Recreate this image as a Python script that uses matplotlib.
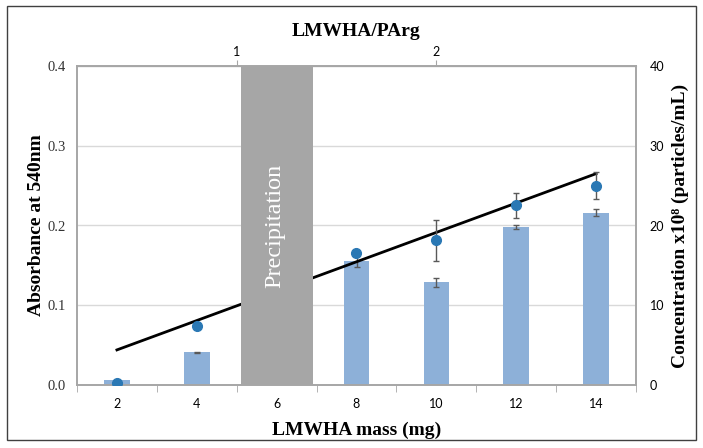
"""
Absorbance and particle concentration vs LMWHA mass
"""
import numpy as np
import matplotlib
matplotlib.use("Agg")
from matplotlib import pyplot as plt
from matplotlib.patches import Rectangle

# data
mass = [2, 4, 8, 10, 12, 14]
absorbance = [0.003, 0.074, 0.165, 0.1815, 0.2255, 0.250]
absorbance_err = [0.0, 0.0, 0.0, 0.026, 0.0155, 0.0168]
concentration = [0.67, 4.1, 15.6, 12.9, 19.8, 21.6]
concentration_err = [0.0, 0.1, 0.8, 0.55, 0.25, 0.45]
fit_mass = [2, 14]
fit_absorbance = [0.044, 0.265]
precip_mass = 6
xticks = [2, 4, 6, 8, 10, 12, 14]
ratio_ticks = [1, 2]

serif = "Liberation Serif"
sans = "Lato"

spine_c = '#A6A6A6'
grid_c = '#D9D9D9'
bar_c = '#8DB0D8'
dot_c = '#2A78B4'
err_c = '#595959'


def main():
    fig = plt.figure(figsize=(7.03, 4.48), dpi=100)
    fig.patches.append(Rectangle((7 / 703, 1 - 440 / 448), 689 / 703, 434 / 448,
                                 transform=fig.transFigure, fill=False,
                                 edgecolor='#404040', linewidth=1.0))
    ax = fig.add_axes([77 / 703, 1 - 385 / 448, 559 / 703, 319 / 448])
    ax2 = ax.twinx()
    ax.set_zorder(ax2.get_zorder() + 1)
    ax.patch.set_visible(False)

    # concentration bars (right axis)
    ax2.bar(mass, concentration, width=0.64, color=bar_c, zorder=2)
    ax2.errorbar(mass, concentration, yerr=concentration_err, fmt='none',
                 ecolor=err_c, elinewidth=1.0, capsize=2, capthick=1.0,
                 zorder=3)
    ax2.set_ylim(0, 40)
    ax2.set_yticks([0, 10, 20, 30, 40])
    ax2.yaxis.grid(True, color=grid_c, linewidth=1.0, zorder=0)
    ax2.set_axisbelow(True)

    # absorbance (left axis)
    ax.plot(fit_mass, fit_absorbance, color='black', linewidth=2, zorder=3)
    ax.bar([precip_mass], [0.4], width=1.8, color='#A6A6A6', zorder=4)
    ax.text(precip_mass - 0.05, 0.2, 'Precipitation', rotation=90,
            color='white', fontsize=17.5, family=serif, ha='center',
            va='center', zorder=5)
    ax.errorbar(mass, absorbance, yerr=absorbance_err, fmt='o', color=dot_c,
                markersize=7, ecolor=err_c, elinewidth=1.0, capsize=2,
                capthick=1.0, zorder=6)
    ax.set_ylim(0, 0.4)
    ax.set_xlim(1, 15)
    ax.set_yticks([0.0, 0.1, 0.2, 0.3, 0.4])
    ax.set_yticklabels(['{:.1f}'.format(v) for v in ax.get_yticks()],
                       family=serif, fontsize=10.5, color='#333333')

    ax.set_xticks(xticks)
    ax.set_xticks(np.arange(1, 16, 2), minor=True)
    ax.set_xticklabels([str(v) for v in xticks], family=sans, fontsize=9)
    ax.tick_params(axis='x', which='major', length=0, pad=9)
    ax.tick_params(axis='x', which='minor', length=5, color=spine_c,
                   direction='out')
    ax.tick_params(axis='y', length=0, pad=8)
    ax2.tick_params(axis='y', length=0, pad=10)
    for lab in ax2.get_yticklabels():
        lab.set_family(sans)
        lab.set_fontsize(9)

    for a in (ax, ax2):
        for s in a.spines.values():
            s.set_color(spine_c)
            s.set_linewidth(1.2)

    top = ax.secondary_xaxis('top', functions=(lambda x: x / 5.0,
                                               lambda r: r * 5.0))
    top.set_xticks(ratio_ticks)
    top.set_xticklabels([str(v) for v in ratio_ticks], family=sans,
                        fontsize=9)
    top.tick_params(length=4, color=spine_c, pad=2)
    top.spines['top'].set_color(spine_c)
    top.set_xlabel('LMWHA/PArg', family=serif, fontweight='bold',
                   fontsize=14, labelpad=7)

    ax.set_xlabel('LMWHA mass (mg)', family=serif, fontweight='bold',
                  fontsize=14, labelpad=9)
    ax.set_ylabel('Absorbance at 540nm', family=serif, fontweight='bold',
                  fontsize=14, labelpad=2)
    ax2.set_ylabel('Concentration x10\u2078 (particles/mL)',
                   family=[serif, 'DejaVu Serif'],
                   fontweight='bold', fontsize=14, labelpad=5)

    fig.savefig('out.png', dpi=100)


if __name__ == '__main__':
    main()
